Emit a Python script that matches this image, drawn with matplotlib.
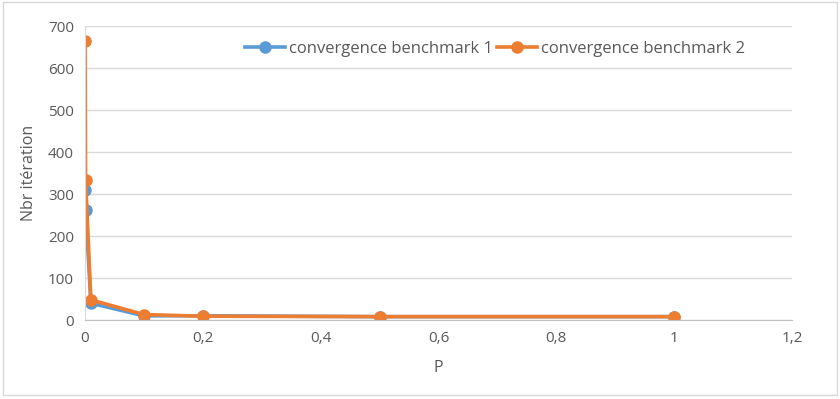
import matplotlib.pyplot as plt
from matplotlib.ticker import FuncFormatter

# Convergence data: iterations needed for each value of P
p_values = [0.0001, 0.001, 0.01, 0.1, 0.2, 0.5, 1.0]
iter_bench1 = [310, 263, 40, 10, 10, 8, 8]
iter_bench2 = [665, 333, 48, 13, 9, 8, 8]

plt.rcParams["font.family"] = ["Open Sans", "DejaVu Sans"]

fig = plt.figure(figsize=(8.4, 3.99), dpi=100)
ax = fig.add_axes([85 / 840, 1 - 320 / 399, (792 - 85) / 840, (320 - 26) / 399])

ax.plot(p_values, iter_bench1, color="#5B9BD5", lw=2.6, marker="o", ms=8,
        label="convergence benchmark 1")
ax.plot(p_values, iter_bench2, color="#ED7D31", lw=2.6, marker="o", ms=8,
        label="convergence benchmark 2")

ax.set_xlim(0, 1.2)
ax.set_ylim(0, 700)
ax.set_xticks([0, 0.2, 0.4, 0.6, 0.8, 1.0, 1.2])
ax.set_yticks(range(0, 701, 100))
ax.xaxis.set_major_formatter(FuncFormatter(lambda v, _: f"{v:g}".replace(".", ",")))

ax.grid(axis="y", color="#D9D9D9", lw=1)
ax.set_axisbelow(True)
for side in ["top", "right"]:
    ax.spines[side].set_visible(False)
ax.spines["left"].set_color("#D9D9D9")
ax.spines["bottom"].set_color("#BFBFBF")
ax.tick_params(length=0, colors="#595959", labelsize=11, pad=8)

ax.set_xlabel("P", color="#595959", fontsize=11.5, labelpad=10)
ax.set_ylabel("Nbr itération", color="#595959", fontsize=11.5, labelpad=8)

ax.legend(loc="upper center", bbox_to_anchor=(0.58, 1.0), ncol=2, frameon=False,
          fontsize=12, labelcolor="#595959", handlelength=2.4,
          handletextpad=0.2, columnspacing=0.3)

# light frame around the chart area
fig.patches.append(plt.Rectangle((0.004, 0.01), 0.992, 0.985, transform=fig.transFigure,
                                 fill=False, edgecolor="#D9D9D9", lw=1))

fig.savefig("out.png", dpi=100)
